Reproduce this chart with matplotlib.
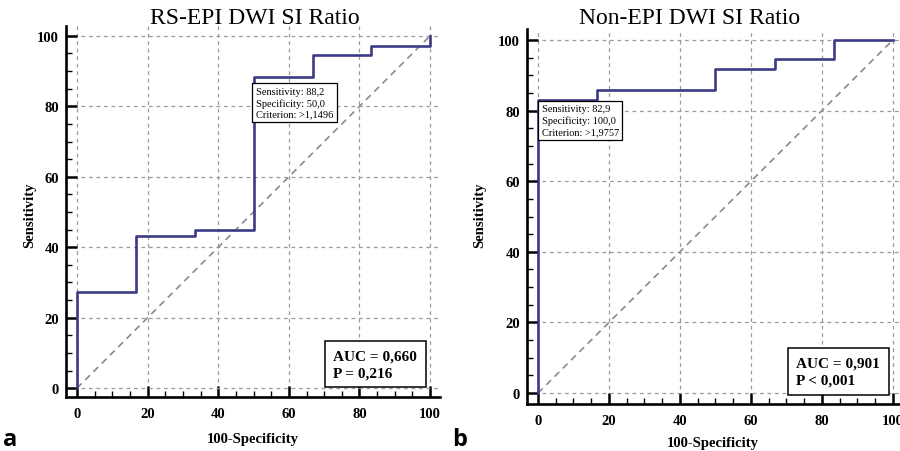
import matplotlib
matplotlib.use("Agg")
import matplotlib.pyplot as plt
from matplotlib.ticker import MultipleLocator

# ---- data ----
fpr_a = [0, 0, 16.7, 33.3, 50, 66.7, 83.3, 100]
tpr_a = [0, 27.3, 43.2, 44.9, 88.2, 94.7, 97.1, 100]
fpr_b = [0, 0, 16.7, 50, 66.7, 83.3, 100]
tpr_b = [0, 82.9, 85.7, 91.9, 94.6, 100, 100]

titles = ["RS-EPI DWI SI Ratio", "Non-EPI DWI SI Ratio"]
crit_texts = ["Sensitivity: 88,2\nSpecificity: 50,0\nCriterion: >1,1496",
              "Sensitivity: 82,9\nSpecificity: 100,0\nCriterion: >1,9757"]
auc_texts = ["AUC = 0,660\nP = 0,216", "AUC = 0,901\nP < 0,001"]
panel_labels = ["a", "b"]
ticks = [0, 20, 40, 60, 80, 100]

W, H = 900, 452
fig = plt.figure(figsize=(W / 100, H / 100), dpi=100)

serif = "Liberation Serif"
line_col = "#3d3a85"

def px_axes(left, right, top, bottom):
    return [left / W, (H - bottom) / H, (right - left) / W, (bottom - top) / H]

panels = [
    dict(rect=px_axes(66, 440, 27, 398), xlim=(-3.1, 102.8), ylim=(-2.5, 102.8),
         fpr=fpr_a, tpr=tpr_a, crit_xy=(50.6, 85.6), auc_xy=(72.6, 2.6),
         title_x=255, xlabel_x=253, xlabel_y=440, ylabel_x=30, plabel_x=3),
    dict(rect=px_axes(527, 905, 30, 405), xlim=(-3.1, 103.4), ylim=(-3.1, 103.1),
         fpr=fpr_b, tpr=tpr_b, crit_xy=(1.0, 81.8), auc_xy=(72.8, 1.9),
         title_x=690, xlabel_x=713, xlabel_y=444, ylabel_x=480, plabel_x=452),
]

for i, p in enumerate(panels):
    ax = fig.add_axes(p["rect"])
    ax.set_xlim(*p["xlim"])
    ax.set_ylim(*p["ylim"])
    for s in ["top", "right"]:
        ax.spines[s].set_visible(False)
    for s in ["left", "bottom"]:
        ax.spines[s].set_linewidth(1.9)
    ax.set_xticks(ticks)
    ax.set_yticks(ticks)
    ax.xaxis.set_minor_locator(MultipleLocator(5))
    ax.yaxis.set_minor_locator(MultipleLocator(5))
    ax.tick_params(which="major", direction="in", length=8, width=1.8, pad=7)
    ax.tick_params(which="minor", direction="in", length=4.3, width=1.0)
    ax.tick_params(axis="y", which="major", pad=5)
    for lab in ax.get_xticklabels() + ax.get_yticklabels():
        lab.set_fontfamily(serif)
        lab.set_fontweight("bold")
        lab.set_fontsize(10.5)
    ax.grid(True, which="major", color="#9a9a9a", linestyle=(0, (3, 3)), linewidth=0.9)
    ax.plot([0, 100], [0, 100], color="#8a8a8a", linestyle=(0, (4, 3)), linewidth=1.2, zorder=2)
    ax.step(p["fpr"], p["tpr"], where="post", color=line_col, linewidth=1.9, zorder=3)

    ax.text(p["crit_xy"][0], p["crit_xy"][1], crit_texts[i], fontfamily=serif,
            fontsize=7.5, ha="left", va="top", linespacing=1.3, zorder=5,
            bbox=dict(boxstyle="square,pad=0.35", facecolor="white",
                      edgecolor="black", linewidth=0.9))
    ax.text(p["auc_xy"][0], p["auc_xy"][1], auc_texts[i], fontfamily=serif,
            fontsize=11, fontweight="bold", ha="left", va="bottom", linespacing=1.4,
            zorder=5,
            bbox=dict(boxstyle="square,pad=0.55", facecolor="white",
                      edgecolor="black", linewidth=1.1))

    fig.text(p["title_x"] / W, 1 - 18 / H, titles[i], fontfamily=serif,
             fontsize=17, ha="center", va="center")
    fig.text(p["xlabel_x"] / W, 1 - p["xlabel_y"] / H, "100-Specificity", fontfamily=serif,
             fontsize=10.5, fontweight="bold", ha="center", va="center")
    fig.text(p["ylabel_x"] / W, 1 - 215 / H, "Sensitivity", fontfamily=serif,
             fontsize=10.5, fontweight="bold", ha="center", va="center", rotation=90)
    fig.text(p["plabel_x"] / W, 1 - 440 / H, panel_labels[i], fontfamily="Open Sans",
             fontsize=17, fontweight="bold", ha="left", va="center")

fig.savefig("out.png", dpi=100)
